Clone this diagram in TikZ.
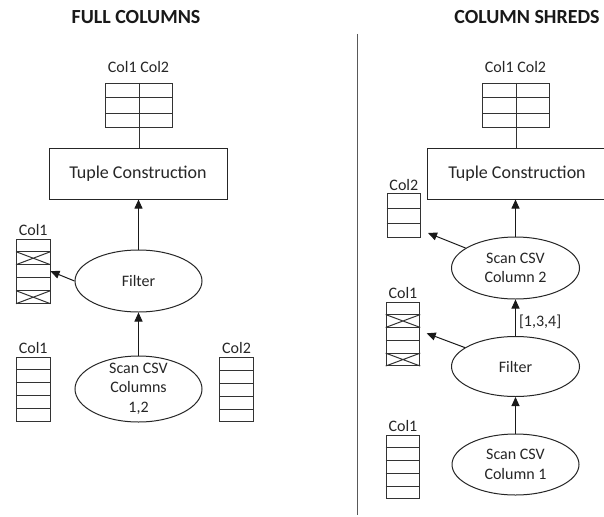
\documentclass[tikz,border=0pt]{standalone}
\usepackage{fontspec}
\setmainfont{Carlito}
\usetikzlibrary{shapes.geometric,arrows.meta,calc}
\newcommand\hrows[2]{\foreach \f in {#2}{\draw[thinl] ($(#1.north west)!\f!(#1.south west)$) -- ($(#1.north east)!\f!(#1.south east)$);}}
\newcommand\xrow[3]{\draw[thinl] ($(#1.north west)!#2!(#1.south west)$) -- ($(#1.north east)!#3!(#1.south east)$) ($(#1.north east)!#2!(#1.south east)$) -- ($(#1.north west)!#3!(#1.south west)$);}
\begin{document}
\begin{tikzpicture}[x=1pt,y=-1pt,
  thinl/.style={draw=black!80, line width=1pt},
  lbl/.style={font=\fontsize{16}{19.5}\selectfont, text=black!85, inner sep=0},
  ttl/.style={font=\fontsize{20}{24}\selectfont\bfseries, text=black!90, inner sep=0},
  ell/.style={ellipse, draw=black!85, line width=1pt, inner sep=0, align=center, font=\fontsize{16}{19.5}\selectfont, text=black!85},
  cbox/.style={rectangle, draw=black!80, line width=1pt, inner sep=0, minimum width=33.5pt, anchor=north west},
  tbl/.style={rectangle, draw=black!80, line width=1pt, inner sep=0, minimum width=66.5pt, minimum height=44pt, anchor=north west},
  tup/.style={rectangle, draw=black!85, line width=1pt, inner sep=0, minimum height=50.5pt, font=\fontsize{18}{22}\selectfont, text=black!85},
  arr/.style={-{Triangle[width=8pt,length=9pt]}, line width=1pt, draw=black!90}]
\useasboundingbox (0,0) rectangle (604,516);
\fill[white] (0,0) rectangle (604,516);

% ---------- titles ----------
\node[ttl, anchor=base] (ttlL) at (136,23.5) {FULL COLUMNS};
\node[ttl, anchor=base] (ttlR) at (527,23.5) {COLUMN SHREDS};

% ---------- divider ----------
\draw[line width=1pt, black!65] (357.5,34) -- (357.5,515);

% ========== LEFT: FULL COLUMNS ==========
\node[lbl, anchor=base] (hdL) at (138.5,72.5) {Col1 Col2};
\node[tbl] (t1) at (105.3,83) {};
\hrows{t1}{0.3333,0.6667}
\node[tup, minimum width=178pt] (tc1) at (138,173.8) {Tuple Construction};
\draw[thinl] (t1.north) -- (t1.north |- tc1.north);

\node[ell, minimum width=127pt, minimum height=62pt] (f1) at (138.5,281) {Filter};
\node[ell, minimum width=127pt, minimum height=66pt] (s1) at (138.5,389) {};
\node[lbl, align=center] (s1t) at (138.5,388.5) {Scan CSV\\Columns\\1,2};

\node[cbox, minimum height=64pt] (c1) at (16,238.7) {};
\hrows{c1}{0.2,0.4,0.6,0.8}
\xrow{c1}{0.2}{0.4}
\xrow{c1}{0.8}{1}
\node[lbl, anchor=base] (c1l) at ([yshift=3.5pt]c1.north) {Col1};

\node[cbox, minimum height=64pt] (c2) at (16,356.7) {};
\hrows{c2}{0.2,0.4,0.6,0.8}
\node[lbl, anchor=base] (c2l) at ([yshift=3.5pt]c2.north) {Col1};

\node[cbox, minimum height=64pt, minimum width=34pt] (c3) at (219,357) {};
\hrows{c3}{0.2,0.4,0.6,0.8}
\node[lbl, anchor=base] (c3l) at ([yshift=3.5pt]c3.north) {Col2};

\draw[arr] (f1.north) -- (f1.north |- tc1.south);
\draw[arr] (s1.north) -- (f1.south);
\draw[arr] (f1.west) -- (c1.east);

% ========== RIGHT: COLUMN SHREDS ==========
\node[lbl, anchor=base] (hdR) at (515.5,72.5) {Col1 Col2};
\node[tbl, minimum width=67pt] (t2) at (482,83) {};
\hrows{t2}{0.3333,0.6667}
\node[tup, minimum width=180pt] (tc2) at (517,173.8) {Tuple Construction};
\draw[thinl] (t2.north) -- (t2.north |- tc2.north);

\node[ell, minimum width=128pt, minimum height=62pt] (s2) at (515.5,268) {Scan CSV\\Column 2};
\node[ell, minimum width=128pt, minimum height=60pt] (fr) at (515.5,366.5) {Filter};
\node[ell, minimum width=127pt, minimum height=61pt] (s3) at (515.5,464.5) {Scan CSV\\Column 1};

\node[cbox, minimum height=44pt, minimum width=33.3pt] (r1) at (386.7,193.3) {};
\hrows{r1}{0.3333,0.6667}
\node[lbl, anchor=base] (r1l) at ([yshift=3.3pt]r1.north) {Col2};

\node[cbox, minimum height=63.3pt] (r2) at (385.7,301.7) {};
\hrows{r2}{0.2,0.4,0.6,0.8}
\xrow{r2}{0.2}{0.4}
\xrow{r2}{0.8}{1}
\node[lbl, anchor=base] (r2l) at ([yshift=3.5pt]r2.north) {Col1};

\node[cbox, minimum height=63.3pt] (r3) at (385.7,435) {};
\hrows{r3}{0.2,0.4,0.6,0.8}
\node[lbl, anchor=base] (r3l) at ([yshift=3.5pt]r3.north) {Col1};

\coordinate (a1) at (428,233);
\coordinate (a2) at (426.7,333.3);
\draw[arr] (s2.north) -- (s2.north |- tc2.south);
\draw[arr] (s2) -- (a1);
\draw[arr] (fr.north) -- node[lbl, right, pos=0.4, inner sep=3pt] {[1,3,4]} (s2.south);
\draw[arr] (fr) -- (a2);
\draw[arr] (s3.north) -- (fr.south);
\end{tikzpicture}
\end{document}
